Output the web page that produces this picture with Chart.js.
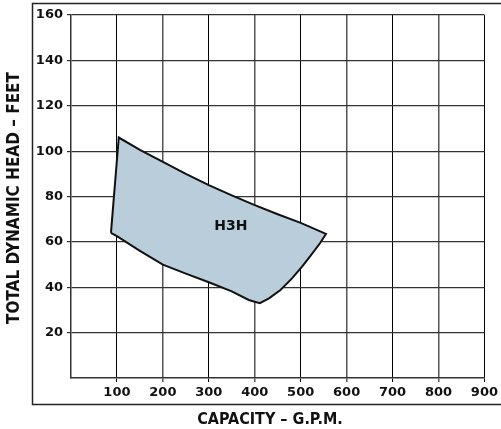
<!DOCTYPE html>
<html>
<head>
<meta charset="utf-8">
<script src="https://cdn.jsdelivr.net/npm/chart.js@4.4.1/dist/chart.umd.min.js"></script>
<style>
  html, body { margin: 0; padding: 0; background: #fff; }
  #wrap { width: 501px; height: 429px; }
</style>
</head>
<body>
<div id="wrap"><canvas id="pumpChart" width="501" height="429"></canvas></div>
<script>
// H3H pump operating range (capacity in G.P.M., head in feet)
const xTicks = [100, 200, 300, 400, 500, 600, 700, 800, 900]
const yTicks = [20, 40, 60, 80, 100, 120, 140, 160]

// outline of the shaded region, walked round once
const capacity = [87, 104, 150, 200, 250, 300, 350, 400, 450, 500, 555, 542, 520, 503, 481, 456, 431, 411, 387, 350, 300, 250, 200, 150, 100, 87]
const head     = [64, 106, 100.6, 95.3, 90, 85, 80.5, 76.2, 72.2, 68.4, 63.5, 59.4, 53.5, 49.1, 43.9, 38.8, 35.1, 33, 34.4, 38.2, 42.2, 46, 50, 56, 62.5, 64]

const regionLabel = 'H3H'
const labelAt = { x: 348, y: 67 }

const outline = capacity.map((c, i) => ({ x: c, y: head[i] }))

const FONT = '"DejaVu Sans", sans-serif'
const TITLE_FONT = '"DejaVu Sans Condensed", "DejaVu Sans", sans-serif'

// outer frame, axis titles and the region label
const decorations = {
  id: 'decorations',
  afterDraw(chart) {
    const ctx = chart.ctx
    const xs = chart.scales.x
    const ys = chart.scales.y
    ctx.save()
    ctx.strokeStyle = '#222'
    ctx.lineWidth = 1.5
    ctx.beginPath()
    ctx.moveTo(520, 3.5)
    ctx.lineTo(32.5, 3.5)
    ctx.lineTo(32.5, 404.5)
    ctx.lineTo(520, 404.5)
    ctx.stroke()

    ctx.fillStyle = '#111'
    ctx.textAlign = 'center'
    ctx.textBaseline = 'middle'
    ctx.font = 'bold 16px ' + TITLE_FONT
    ctx.fillText('CAPACITY – G.P.M.', 270, 420)

    ctx.font = 'bold 17px ' + TITLE_FONT
    ctx.translate(15, 198)
    ctx.rotate(-Math.PI / 2)
    ctx.fillText('TOTAL DYNAMIC HEAD – FEET', 0, 0)
    ctx.restore()

    ctx.save()
    ctx.fillStyle = '#111'
    ctx.font = 'bold 14px ' + FONT
    ctx.textAlign = 'center'
    ctx.textBaseline = 'middle'
    ctx.fillText(regionLabel, xs.getPixelForValue(labelAt.x), ys.getPixelForValue(labelAt.y))
    ctx.restore()
  },
}

const data = {
  datasets: [
    {
      label: regionLabel,
      data: outline,
      borderColor: '#111',
      borderWidth: 2,
      backgroundColor: 'rgb(185, 206, 218)',
      fill: 'shape',
      pointRadius: 0,
      tension: 0,
    },
  ],
}

const config = {
  type: 'line',
  data: data,
  options: {
    animation: false,
    responsive: false,
    layout: { padding: { left: 0, top: 15, right: 14, bottom: 0 } },
    plugins: {
      legend: { display: false },
      tooltip: { enabled: false },
    },
    scales: {
      x: {
        type: 'linear',
        min: 0,
        max: 900,
        afterBuildTicks: (scale) => {
          scale.ticks = xTicks.map((v) => ({ value: v }))
        },
        afterFit: (scale) => {
          scale.height = 51
        },
        grid: {
          color: (c) => (c.tick && c.tick.value % 200 === 100 ? '#000' : '#555'),
          lineWidth: (c) => (c.tick && c.tick.value % 200 === 100 ? 1 : 1.5),
          tickLength: 4,
        },
        border: { color: '#333', width: 1.5 },
        ticks: {
          color: '#111',
          padding: 3,
          maxRotation: 0,
          font: { family: FONT, size: 13, weight: 'bold' },
        },
      },
      y: {
        min: 0,
        max: 160,
        afterBuildTicks: (scale) => {
          scale.ticks = yTicks.map((v) => ({ value: v }))
        },
        afterFit: (scale) => {
          scale.width = 71
        },
        grid: {
          color: '#333',
          lineWidth: 1.2,
          tickLength: 4,
        },
        border: { color: '#333', width: 1.5 },
        ticks: {
          color: '#111',
          padding: 4,
          font: { family: FONT, size: 13, weight: 'bold' },
        },
      },
    },
  },
  plugins: [decorations],
}

const myChart = new Chart(document.getElementById('pumpChart'), config)
</script>
</body>
</html>
